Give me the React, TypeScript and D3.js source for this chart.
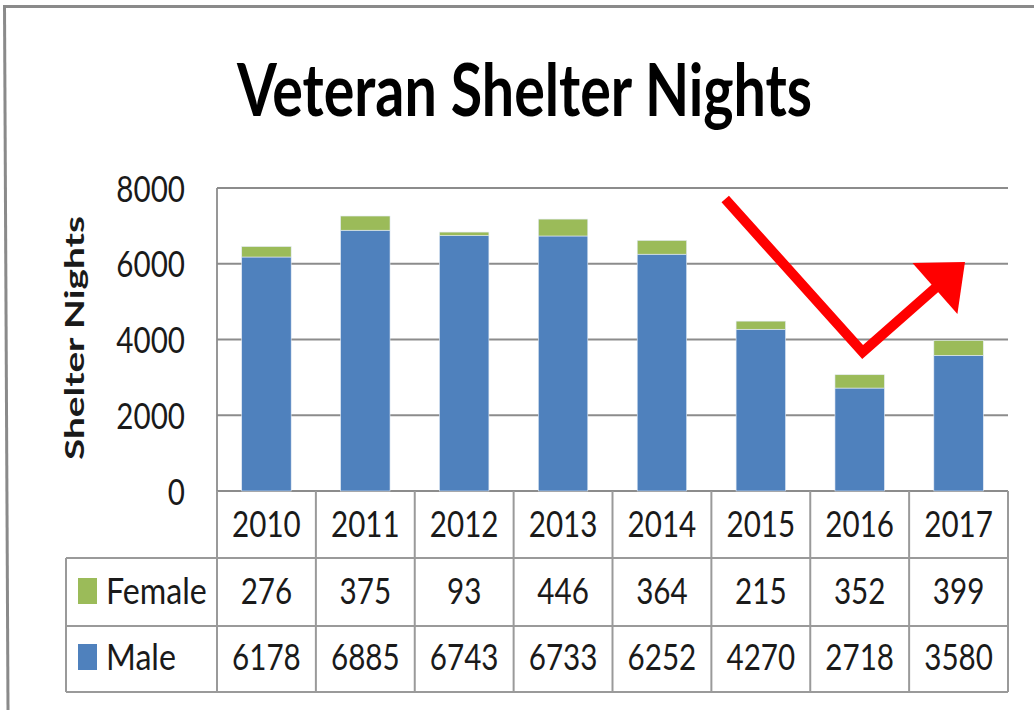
import React from 'react';
import * as d3 from 'd3';

const years = ['2010', '2011', '2012', '2013', '2014', '2015', '2016', '2017'];
const female = [276, 375, 93, 446, 364, 215, 352, 399];
const male = [6178, 6885, 6743, 6733, 6252, 4270, 2718, 3580];
const yTicks = [0, 2000, 4000, 6000, 8000];
const seriesNames = ['Female', 'Male'];
// annotation arrow in data space (category index position, value)
const arrowPos = [5.14, 6.53, 7.565];
const arrowVal = [7710, 3670, 6046];

const W = 1034, H = 710;
const plotL = 217, plotR = 1008, plotT = 188, plotB = 491;
const rowYearB = 558, rowFemB = 626, rowMaleB = 692, tableL = 66;
const BLUE = '#4F81BD', GREEN = '#9BBB59';
const FONT = 'Lato, "Open Sans", sans-serif';
const SX = 0.8;

export default function App() {
  const x = d3.scaleBand().domain(years).range([plotL, plotR]).paddingInner(0.5).paddingOuter(0.25);
  const y = d3.scaleLinear().domain([0, 8000]).range([plotB, plotT]);
  const xLin = d3.scaleLinear().domain([0, years.length]).range([plotL, plotR]);
  const step = x.step();
  const bounds = d3.range(years.length + 1).map(i => plotL + i * step);

  const data = years.map((yr, i) => ({ year: yr, male: male[i], female: female[i] }));
  const stack = d3.stack<any>().keys(['male', 'female'])(data);
  const colors: Record<string, string> = { male: BLUE, female: GREEN };

  // arrow
  const pts = arrowPos.map((p, i) => [xLin(p), y(arrowVal[i])] as [number, number]);
  const tip = pts[2];
  const prev = pts[1];
  const dx = tip[0] - prev[0], dy = tip[1] - prev[1];
  const len = Math.hypot(dx, dy);
  const ux = dx / len, uy = dy / len;
  const headL = 40, headW = 68;
  const base: [number, number] = [tip[0] - ux * headL, tip[1] - uy * headL];
  const c1 = [base[0] - uy * headW / 2, base[1] + ux * headW / 2];
  const c2 = [base[0] + uy * headW / 2, base[1] - ux * headW / 2];
  const linePts = [pts[0], pts[1], [base[0] + ux * 2, base[1] + uy * 2] as [number, number]];

  const txt = (s: string, tx: number, ty: number, anchor: string, key?: string, sx = SX) => (
    <text key={key} transform={`translate(${tx},${ty}) scale(${sx},1)`} textAnchor={anchor}
      fontFamily={FONT} fontSize={37} fill="#1a1a1a">{s}</text>
  );

  const rowBaselines = [604, 670];
  const rowValues = [female, male];
  const rowColors = [GREEN, BLUE];

  return (
    <svg width={W} height={H} style={{ position: 'absolute', left: 0, top: 0, background: '#fff' }}>
      <rect x={0} y={0} width={W} height={H} fill="#fff" />
      {/* frame */}
      <line x1={4} y1={6.5} x2={W} y2={6.5} stroke="#8a8a8a" strokeWidth={3} />
      <line x1={4.5} y1={5} x2={8} y2={H} stroke="#8a8a8a" strokeWidth={3} />

      {/* title */}
      <text x={237} y={116} fontFamily={FONT} fontWeight={700} fontSize={72} fill="#000"
        textLength={575} lengthAdjust="spacingAndGlyphs">Veteran Shelter Nights</text>

      {/* y axis label */}
      <text transform={`translate(84,338) rotate(-90)`} textAnchor="middle" fontFamily={FONT}
        fontWeight={700} fontSize={27} fill="#1a1a1a" textLength={244} lengthAdjust="spacingAndGlyphs">Shelter Nights</text>

      {/* gridlines */}
      {yTicks.map(t => (
        <line key={t} x1={plotL} x2={plotR} y1={y(t)} y2={y(t)} stroke="#8c8c8c" strokeWidth={1.8} />
      ))}
      <line x1={plotL} x2={plotL} y1={plotT} y2={plotB} stroke="#8c8c8c" strokeWidth={1.8} />
      {yTicks.map(t => txt(String(t), 185, y(t) + 13.5, 'end', 'yt' + t))}

      {/* bars */}
      {stack.map(layer => layer.map((d, i) => (
        <rect key={layer.key + i} x={x(years[i])} width={x.bandwidth()}
          y={y(d[1])} height={y(d[0]) - y(d[1])} fill={colors[layer.key]}
          stroke="#e3ebf5" strokeWidth={0.6} />
      )))}

      {/* data table */}
      <g stroke="#9a9a9a" strokeWidth={2}>
        {bounds.map((b, i) => (
          <line key={'v' + i} x1={b} x2={b} y1={plotB} y2={rowMaleB} />
        ))}
        <line x1={tableL} x2={tableL} y1={rowYearB} y2={rowMaleB} />
        <line x1={tableL} x2={plotR} y1={rowYearB} y2={rowYearB} />
        <line x1={tableL} x2={plotR} y1={rowFemB} y2={rowFemB} />
        <line x1={tableL} x2={plotR} y1={rowMaleB} y2={rowMaleB} />
      </g>
      {years.map((yr, i) => txt(yr, (x(yr) as number) + x.bandwidth() / 2, 537, 'middle', 'yr' + yr))}
      {seriesNames.map((name, r) => (
        <g key={name}>
          <rect x={78} y={rowBaselines[r] - 26} width={19} height={26} fill={rowColors[r]} />
          {txt(name, 106, rowBaselines[r], 'start', undefined, 0.87)}
          {rowValues[r].map((v, i) => txt(String(v), (x(years[i]) as number) + x.bandwidth() / 2,
            rowBaselines[r], 'middle', name + i))}
        </g>
      ))}

      {/* annotation arrow */}
      <polyline points={linePts.map(p => p.join(',')).join(' ')} fill="none" stroke="#ff0000"
        strokeWidth={10} strokeLinejoin="miter" strokeLinecap="butt" />
      <polygon points={[tip, c1, c2].map(p => p.join(',')).join(' ')} fill="#ff0000" />
    </svg>
  );
}
